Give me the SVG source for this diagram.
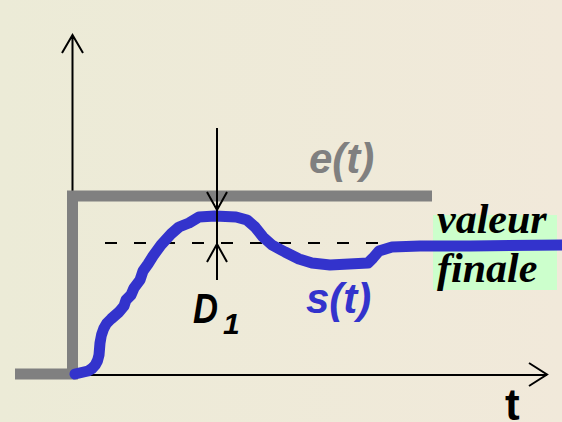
<svg xmlns="http://www.w3.org/2000/svg" width="562" height="422" viewBox="0 0 562 422">
<defs>
<linearGradient id="bg" x1="0" y1="0" x2="1" y2="0">
<stop offset="0" stop-color="#ecebd7"/>
<stop offset="1" stop-color="#f1e9da"/>
</linearGradient>
<style>
.axis{fill:none;stroke:#000;stroke-width:2}
.lbl{font-family:"Liberation Sans",Arial,sans-serif;font-weight:bold;font-style:italic}
.serif{font-family:"Liberation Serif","Times New Roman",serif;font-weight:bold;font-style:italic;font-size:42px;fill:#000}
</style>
</defs>
<rect width="562" height="422" fill="url(#bg)"/>
<g id="axes">
<path class="axis" d="M72.5,196 V35 M62,53 L72.5,35 L83,53"/>
<path class="axis" d="M76,375 H547 M529,363 L547,374.5 L529,386"/>
<text x="505" y="420" font-family="'Liberation Sans',Arial,sans-serif" font-weight="bold" font-size="44" fill="#000">t</text>
</g>
<g id="final-value-bg">
<rect x="433" y="215" width="124" height="75" fill="#ccffcc"/>
</g>
<g id="e-step">
<path d="M15,374 H72.5 V196 H432" fill="none" stroke="#808080" stroke-width="11"/>
<text class="lbl" x="309" y="173" font-size="42" fill="#808080">e(t)</text>
</g>
<g id="dashed">
<path d="M105,243 H382" fill="none" stroke="#000" stroke-width="2" stroke-dasharray="12 17"/>
</g>
<g id="s-curve">
<path d="M75,374 L88,371 Q97,367 99,355 L100,343 Q102,326 111,319 L119,312 L124,306 L126,300 L131,295 L134,288 L140,280 L143,271 L148,264 L153,256 L161,245 L171,234 L179,227 L189,223 L199,217 L215,216 L236,217 L247,220 L255,227 L263,237 L272,245 L285,252 L299,259 L312,263 L330,265 L368,263 L373,258 L379,251 L392,247 L420,246 L470,246 L562,245" fill="none" stroke="#3333cc" stroke-width="11" stroke-linejoin="round" stroke-linecap="round"/>
<text class="lbl" x="306" y="313" font-size="42" fill="#3333cc">s(t)</text>
</g>
<g id="overshoot">
<path class="axis" d="M217,128 V280 M207,192 L217,210 L227,192 M207,262 L217,244 L227,262"/>
<text class="lbl" x="193" y="323" font-size="42" fill="#000" textLength="25" lengthAdjust="spacingAndGlyphs">D</text>
<text class="lbl" x="223" y="334" font-size="30" fill="#000">1</text>
</g>
<g id="final-value">
<text class="serif" x="437" y="233">valeur</text>
<text class="serif" x="437" y="282">finale</text>
</g>
</svg>
